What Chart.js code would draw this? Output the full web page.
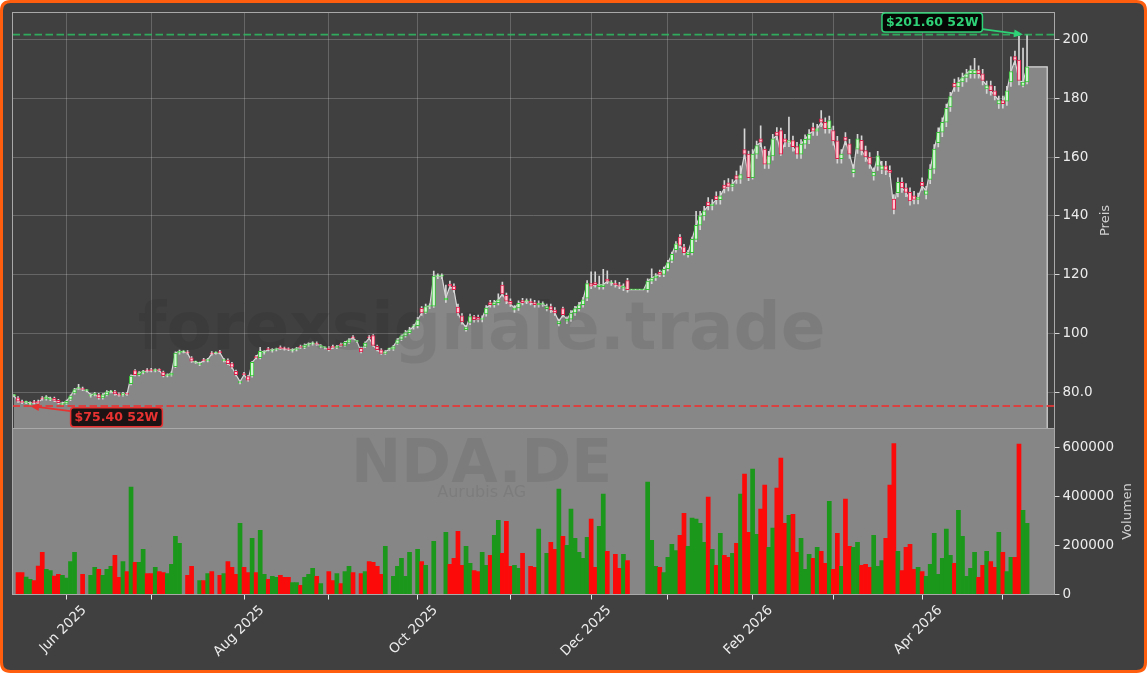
<!DOCTYPE html>
<html><head><meta charset="utf-8">
<script src="https://cdn.jsdelivr.net/npm/chart.js@4.4.1/dist/chart.umd.min.js"></script>
<style>html,body{margin:0;padding:0;background:#fff;}#wrap{width:1147px;height:673px;}</style>
</head><body><div id="wrap"><canvas id="c" width="1147" height="673"></canvas></div>
<script>
// ---- data (trading-day index on x) ----
const monthTickIdx = [13,34,57,78,100,123,143,162,183,203,225,245];
const monthTickLabels = ['Jun 2025','','Aug 2025','','Oct 2025','','Dec 2025','','Feb 2026','','Apr 2026',''];
const priceTicks = [80,100,120,140,160,180,200];
const priceTickLabels = ['80.0','100','120','140','160','180','200'];
const volTicks = [0,200000,400000,600000];
const volTickLabels = ['0','200000','400000','600000'];

const closes = [
78.9,77.0,76.6,76.7,76.4,76.5,76.6,77.8,78.5,78.0,
77.3,76.5,76.3,77.0,78.8,81.0,81.4,81.0,80.6,79.2,
79.6,78.1,79.2,80.2,80.3,79.5,79.1,79.6,79.4,85.6,
86.0,86.7,87.1,87.3,87.4,87.6,87.5,85.7,85.9,86.6,
93.4,94.0,93.8,93.4,90.6,90.3,89.9,90.8,91.2,93.1,
93.4,93.5,91.2,89.8,88.6,86.0,83.7,86.0,84.2,90.2,
91.8,94.0,93.8,94.5,94.5,94.7,95.0,94.8,94.6,94.5,
94.9,95.3,96.1,96.5,96.8,96.4,95.9,95.2,94.5,95.3,
95.6,96.0,97.0,97.9,98.5,97.3,93.8,96.8,98.5,96.0,
94.5,93.3,93.8,94.7,95.6,97.9,99.2,100.3,101.3,102.3,
104.7,107.0,109.2,109.3,119.5,119.5,119.5,112.1,116.1,114.9,
107.0,104.0,102.0,105.8,104.7,104.8,105.2,108.7,109.8,110.5,
111.5,113.5,111.0,110.0,108.7,110.3,110.5,111.0,110.5,109.8,
110.3,110.0,109.2,108.0,107.0,104.1,106.4,104.9,107.0,108.5,
109.8,111.5,117.0,116.1,116.6,116.6,116.6,117.8,117.2,116.6,
116.1,116.1,114.9,114.9,114.9,114.9,114.9,117.8,118.9,119.6,
120.1,121.8,124.1,126.9,130.5,130.0,127.5,127.5,132.0,136.8,
140.0,141.7,143.5,144.0,145.5,146.8,149.3,150.0,150.8,152.5,
154.0,161.0,153.0,161.0,163.9,165.0,157.6,160.4,166.2,167.3,
161.0,165.0,165.6,163.5,161.0,164.4,166.0,167.8,168.8,169.6,
171.8,169.6,172.4,165.5,159.4,161.0,165.6,161.0,155.9,166.2,
162.2,160.0,157.6,154.8,160.4,157.0,155.5,154.8,142.2,151.4,
149.5,148.0,145.1,145.6,146.2,150.2,148.5,155.9,162.7,168.4,
171.8,176.5,180.5,183.8,185.5,187.0,188.3,189.5,189.5,188.3,
186.0,184.3,182.5,180.9,179.2,178.1,182.5,189.0,192.9,186.0,
185.5,190.6];
const opens = [
78.9,78.2,77.0,76.6,76.0,76.9,77.0,78.2,77.8,77.6,
78.0,77.3,75.9,76.3,77.6,79.8,81.4,81.4,80.6,78.8,
79.2,79.3,78.1,79.2,80.2,80.3,79.5,79.1,79.6,83.0,
87.4,86.0,86.7,87.7,87.8,87.4,87.6,86.9,85.7,85.9,
88.8,93.4,93.8,93.8,91.8,90.3,89.5,91.2,90.8,93.5,
93.4,93.9,90.8,91.0,89.8,87.2,83.3,86.4,85.4,85.6,
92.2,91.8,93.4,94.9,94.1,94.5,95.4,95.0,94.8,94.1,
94.5,95.7,95.3,96.1,96.5,96.8,95.5,95.2,95.2,95.7,
95.3,96.4,96.0,97.0,98.9,97.3,95.0,95.6,98.9,99.3,
95.7,94.5,93.3,94.7,94.7,96.7,98.0,99.2,100.3,102.3,
102.7,108.6,107.2,109.3,109.3,119.5,119.5,111.4,116.8,116.1,
109.0,106.0,101.3,103.8,105.8,105.5,104.8,106.7,110.5,109.8,
110.5,116.5,113.0,111.0,108.0,108.7,111.2,111.0,111.0,110.5,
109.8,110.0,108.5,109.2,108.0,103.4,108.5,104.2,104.9,107.0,
108.5,109.8,112.0,117.0,117.3,115.9,115.9,118.5,117.2,117.2,
116.6,115.4,118.0,114.9,114.9,114.9,114.9,114.9,117.8,118.9,
120.8,120.1,122.1,124.9,128.5,132.8,129.5,126.8,127.5,132.0,
136.8,140.0,144.7,143.5,146.7,145.5,150.5,151.2,150.0,153.7,
152.5,162.5,161.0,153.0,161.0,166.2,162.7,157.6,160.4,168.5,
169.0,166.2,165.0,165.6,163.5,161.0,164.4,166.0,170.0,168.8,
173.0,171.8,169.6,169.0,165.5,159.4,166.8,164.5,154.7,162.7,
165.7,162.2,160.0,153.6,156.9,155.8,157.0,155.5,145.7,147.9,
151.4,149.5,148.0,146.8,145.6,151.4,147.3,152.4,155.9,164.9,
168.4,171.8,177.0,185.0,183.8,185.5,187.0,188.3,188.3,189.5,
188.3,183.1,184.3,182.5,178.0,179.2,179.0,185.5,194.1,192.9,
184.3,185.5];
const highs = [
79.3,78.6,77.4,77.1,76.8,77.3,77.4,78.6,78.9,78.4,
78.4,77.7,76.7,77.4,79.2,81.4,82.8,81.8,81.0,79.6,
80.0,79.7,79.6,80.6,80.7,80.7,79.9,80.0,80.0,86.0,
87.8,87.1,87.5,88.1,88.2,88.0,88.0,87.3,86.3,87.0,
93.8,94.4,94.2,94.2,92.2,90.7,90.3,91.6,91.6,93.9,
93.8,94.3,91.6,91.4,90.2,87.6,84.1,86.8,85.8,90.6,
92.6,95.3,94.2,95.3,94.9,95.1,95.8,95.4,95.2,94.9,
95.3,96.1,96.5,96.9,97.2,97.2,96.3,95.6,95.6,96.1,
96.0,96.8,97.4,98.3,99.3,97.7,95.4,97.2,99.3,99.7,
96.1,94.9,94.2,95.1,96.0,98.3,99.6,101.1,102.1,103.1,
105.5,109.2,110.0,110.1,121.2,120.3,120.3,116.5,117.8,116.9,
110.0,106.8,102.8,106.6,106.2,106.3,106.0,109.5,111.3,111.3,
113.5,117.5,113.8,111.8,109.5,111.1,112.0,111.8,111.8,111.3,
111.1,110.8,110.0,110.0,108.8,104.9,109.0,105.7,107.8,109.3,
110.6,112.3,118.0,121.0,121.0,119.5,121.8,121.3,118.0,118.0,
117.4,116.9,118.8,114.9,114.9,114.9,114.9,118.6,122.0,120.4,
121.6,122.6,124.9,127.7,131.3,133.6,130.3,128.3,132.8,141.5,
141.5,143.2,146.2,145.5,148.2,148.3,152.0,152.7,152.3,155.2,
157.0,169.6,162.0,162.5,165.4,170.6,163.5,161.9,167.7,170.0,
169.8,167.7,173.6,167.1,165.0,165.9,167.5,169.3,171.5,171.1,
175.8,173.3,173.9,170.5,167.0,162.5,168.3,166.0,157.4,167.7,
167.2,163.7,161.5,156.3,161.9,158.5,158.5,157.0,147.2,152.9,
152.9,151.0,149.5,148.3,147.7,152.9,150.0,157.4,164.2,169.9,
173.3,178.0,182.0,186.5,187.0,188.5,189.8,191.0,193.5,191.0,
189.8,185.8,185.8,184.0,180.7,180.7,184.0,194.0,196.0,201.0,
197.0,201.6];
const lows = [
78.5,76.6,76.2,76.2,75.4,76.1,76.2,77.4,77.4,77.2,
76.9,76.1,75.5,75.9,77.2,79.4,81.0,80.6,80.2,78.4,
78.8,77.7,77.7,78.8,79.8,79.1,78.7,78.7,79.0,82.6,
85.6,85.6,86.3,86.9,87.0,87.0,87.1,85.3,85.3,85.5,
88.4,93.0,93.4,93.0,90.2,89.9,89.1,90.4,90.4,92.7,
93.0,93.1,90.4,89.4,88.2,85.6,82.9,85.6,83.8,85.2,
91.4,91.4,93.0,94.1,93.7,94.1,94.6,94.4,94.2,93.7,
94.1,94.9,94.9,95.7,96.1,96.0,95.1,94.8,94.1,94.9,
94.9,95.6,95.6,96.6,98.1,96.9,93.4,95.2,98.1,95.6,
94.1,92.9,92.9,94.3,94.3,96.3,97.6,98.8,99.9,101.5,
101.9,106.2,106.8,108.5,108.9,118.7,118.7,110.6,115.3,114.1,
106.2,103.2,100.8,103.0,103.9,104.0,104.0,105.9,109.0,109.0,
109.7,112.7,110.2,109.2,107.2,107.9,109.7,110.2,109.7,109.0,
109.0,109.2,107.7,107.2,106.2,102.6,105.6,103.4,104.1,106.2,
107.7,109.0,111.2,115.3,115.8,115.1,115.1,117.0,116.4,115.8,
115.3,114.6,114.1,114.9,114.9,114.9,114.9,114.1,117.0,118.1,
119.3,119.3,121.3,124.1,127.7,129.2,126.7,126.0,126.7,131.2,
135.3,138.5,142.0,142.0,144.0,144.0,147.8,148.5,148.5,151.0,
151.0,159.5,152.0,152.5,159.5,163.5,156.1,156.1,158.9,165.8,
160.5,163.5,163.5,162.0,159.5,159.5,162.9,164.5,167.3,167.3,
170.3,168.1,168.1,164.0,157.9,157.9,164.1,159.5,153.2,161.2,
160.7,158.5,156.1,152.1,155.4,154.3,154.0,153.3,140.7,146.4,
148.0,146.5,143.6,144.1,144.1,148.7,145.8,150.9,154.4,163.4,
166.9,170.3,175.5,182.3,182.3,184.0,185.5,186.8,186.8,186.8,
184.5,181.6,181.0,179.4,176.5,176.6,177.5,184.0,191.4,184.5,
183.8,184.8];
const volumes = [
0,90000,90000,71000,61500,57000,116000,172000,102500,98000,
75000,82000,78000,67000,135000,172000,0,82000,0,78000,
111000,102500,78000,102500,115000,160000,70000,135000,94000,439000,
131000,131000,185000,86000,86000,111000,94000,90000,86000,123000,
238000,209000,0,78000,115000,0,57000,57000,86000,94000,
0,78000,86000,135000,111000,82000,291000,111000,90000,230000,
90000,262000,82000,61500,74000,70000,78000,70000,70000,49000,
49000,37000,70000,82000,107000,74000,45000,0,94000,57000,
86000,45000,94000,115000,90000,0,86000,94000,135000,131000,
115000,82000,197000,0,74000,115000,148000,74000,172000,0,
185000,135000,119000,0,217000,0,0,254000,123000,148000,
258000,119000,197000,127000,98000,94000,172000,119000,160000,242000,
303000,168000,299000,115000,119000,107000,168000,0,115000,111000,
267000,0,168000,213000,185000,431000,238000,201000,349000,230000,
172000,148000,234000,308000,111000,279000,410000,176000,0,164000,
107000,164000,139000,0,0,0,0,459000,221000,115000,
111000,90000,152000,205000,180000,242000,332000,197000,312000,308000,
291000,213000,398000,185000,119000,250000,160000,152000,168000,209000,
410000,492000,254000,513000,246000,349000,447000,193000,271000,435000,
558000,291000,324000,328000,172000,230000,102500,164000,148000,193000,
176000,127000,381000,102500,250000,115000,390000,197000,193000,213000,
119000,123000,111000,242000,115000,139000,230000,447000,617000,176000,
98000,193000,205000,102500,111000,94000,74000,123000,250000,82000,
148000,267000,160000,127000,344000,238000,74000,107000,172000,70000,
119000,176000,135000,111000,254000,172000,94000,152000,152000,615000,
344000,291000];
const tailCloses = [190.6,190.6,190.6,190.6,190.6];
const high52 = 201.6, high52Idx = 250;
const low52 = 75.4, low52Idx = 4;
const siteName = 'forexsignale.trade', ticker = 'NDA.DE', company = 'Aurubis AG';

// ---- scale ranges ----
const X_MIN = -0.37, X_MAX = 257.8;
const P_MIN = 67.75, P_MAX = 209.1;
const V_MAX = 678500;

const FONT = "'DejaVu Sans', sans-serif";
Chart.defaults.font.family = FONT;

const N = closes.length;
const up = i => closes[i] >= opens[i];
const closeLine = closes.map((c, i) => ({x: i, y: c}))
  .concat(tailCloses.map((c, k) => ({x: N + k, y: c})));
closeLine.push({x: N + tailCloses.length - 1, y: P_MIN});

function rr(c, x, y, w, h, r) {
  c.beginPath();
  c.moveTo(x + r, y); c.lineTo(x + w - r, y); c.quadraticCurveTo(x + w, y, x + w, y + r);
  c.lineTo(x + w, y + h - r); c.quadraticCurveTo(x + w, y + h, x + w - r, y + h);
  c.lineTo(x + r, y + h); c.quadraticCurveTo(x, y + h, x, y + h - r);
  c.lineTo(x, y + r); c.quadraticCurveTo(x, y, x + r, y); c.closePath();
}

const bgPlugin = {
  id: 'bg',
  beforeDraw(ch) {
    const c = ch.ctx; c.save();
    c.fillStyle = '#ffffff'; c.fillRect(0, 0, ch.width, ch.height);
    rr(c, 1.5, 1.5, ch.width - 3, ch.height - 3, 9);
    c.fillStyle = '#404040'; c.fill();
    c.lineWidth = 3; c.strokeStyle = '#ff5e0e'; c.stroke();
    c.restore();
  },
  beforeDatasetsDraw(ch) {
    const c = ch.ctx, ca = ch.chartArea, yv = ch.scales.yv;
    c.save(); c.fillStyle = '#868686';
    c.fillRect(ca.left, yv.top, ca.right - ca.left, yv.bottom - yv.top);
    c.restore();
  }
};

function annot(c, text, cx, cy, tx, ty, col, bg) {
  c.font = 'bold 12.5px ' + FONT;
  const w = c.measureText(text).width + 8, h = 19;
  const bx = cx - w / 2, by = cy - h / 2;
  const dx = tx - cx, dy = ty - cy;
  const sx = dx !== 0 ? (w / 2) / Math.abs(dx) : Infinity;
  const sy = dy !== 0 ? (h / 2) / Math.abs(dy) : Infinity;
  const s = Math.min(sx, sy);
  const x0 = cx + dx * s, y0 = cy + dy * s;
  const len = Math.hypot(tx - x0, ty - y0), ux = (tx - x0) / len, uy = (ty - y0) / len;
  const hl = 9, hw = 4;
  c.strokeStyle = col; c.fillStyle = col; c.lineWidth = 1.8;
  c.beginPath(); c.moveTo(x0, y0); c.lineTo(tx - ux * hl, ty - uy * hl); c.stroke();
  c.beginPath(); c.moveTo(tx, ty);
  c.lineTo(tx - ux * hl - uy * hw, ty - uy * hl + ux * hw);
  c.lineTo(tx - ux * hl + uy * hw, ty - uy * hl - ux * hw);
  c.closePath(); c.fill();
  rr(c, bx, by, w, h, 3); c.fillStyle = bg; c.fill();
  c.lineWidth = 1.5; c.strokeStyle = col; c.stroke();
  c.fillStyle = col; c.textAlign = 'center'; c.textBaseline = 'middle';
  c.fillText(text, cx, cy + 0.5);
}

const overlayPlugin = {
  id: 'overlay',
  afterDatasetsDraw(ch) {
    const c = ch.ctx, ca = ch.chartArea, x = ch.scales.x, y = ch.scales.y, yv = ch.scales.yv;
    c.save();
    // watermarks
    c.fillStyle = 'rgba(0,0,0,0.075)'; c.textAlign = 'center'; c.textBaseline = 'alphabetic';
    c.font = 'bold 66px ' + FONT; c.fillText(siteName, 481.7, 349);
    c.font = 'bold 60px ' + FONT; c.fillText(ticker, 481.7, 482);
    c.font = '16px ' + FONT; c.fillText(company, 481.7, 497);
    // frames
    c.strokeStyle = '#a9a9a9'; c.lineWidth = 1;
    c.strokeRect(ca.left, y.top, ca.right - ca.left, y.bottom - y.top);
    c.strokeRect(ca.left, yv.top, ca.right - ca.left, yv.bottom - yv.top);
    // 52W annotations
    annot(c, '$' + high52.toFixed(2) + ' 52W', x.getPixelForValue(227.5), y.getPixelForValue(205.7),
      x.getPixelForValue(high52Idx), y.getPixelForValue(high52), '#2fd176', '#050805');
    annot(c, '$' + low52.toFixed(2) + ' 52W', x.getPixelForValue(25.4), y.getPixelForValue(71.6),
      x.getPixelForValue(low52Idx), y.getPixelForValue(low52), '#e83232', '#1c1414');
    // axis titles
    c.fillStyle = '#d0d0d0'; c.font = '13px ' + FONT; c.textAlign = 'center'; c.textBaseline = 'middle';
    c.save(); c.translate(ca.right + 51.5, (y.top + y.bottom) / 2); c.rotate(-Math.PI / 2); c.fillText('Preis', 0, 0); c.restore();
    c.save(); c.translate(ca.right + 73, (yv.top + yv.bottom) / 2); c.rotate(-Math.PI / 2); c.fillText('Volumen', 0, 0); c.restore();
    c.restore();
  }
};

new Chart(document.getElementById('c'), {
  data: {
    datasets: [
      { type: 'bar', data: volumes.map((v, i) => ({x: i, y: v})), xAxisID: 'x', yAxisID: 'yv',
        backgroundColor: volumes.map((v, i) => up(i) ? '#1b981b' : '#fc0a0a'),
        barPercentage: 1, categoryPercentage: 1, grouped: false, order: 10 },
      { type: 'line', data: closeLine, xAxisID: 'x', yAxisID: 'y', borderColor: '#dadada', borderWidth: 1.2,
        backgroundColor: '#878787', fill: 'start', pointRadius: 0, tension: 0, order: 9 },
      { type: 'bar', data: closes.map((c, i) => ({x: i, y: [lows[i], highs[i]]})), xAxisID: 'x', yAxisID: 'y',
        backgroundColor: '#d6d6d6', barThickness: 1, grouped: false, order: 6 },
      { type: 'bar', data: closes.map((c, i) => ({x: i, y: [opens[i], c]})), xAxisID: 'x', yAxisID: 'y',
        backgroundColor: closes.map((c, i) => up(i) ? '#d4f5d4' : '#ffc8d3'),
        borderColor: closes.map((c, i) => up(i) ? '#36c236' : '#dc1e4a'),
        borderWidth: 1, borderSkipped: false, barThickness: 3.6, minBarLength: 1, grouped: false, order: 5 },
      { type: 'line', data: [{x: X_MIN, y: high52}, {x: X_MAX, y: high52}], xAxisID: 'x', yAxisID: 'y',
        borderColor: 'rgba(46,190,100,0.85)', borderWidth: 1.8, borderDash: [7.5, 3.5], pointRadius: 0, fill: false, order: 2 },
      { type: 'line', data: [{x: X_MIN, y: low52}, {x: X_MAX, y: low52}], xAxisID: 'x', yAxisID: 'y',
        borderColor: 'rgba(232,52,52,0.85)', borderWidth: 1.8, borderDash: [7.5, 3.5], pointRadius: 0, fill: false, order: 2 }
    ]
  },
  options: {
    responsive: false, animation: false, devicePixelRatio: 1,
    layout: { padding: { left: 12.5, top: 12.5, right: 0, bottom: 0 } },
    plugins: { legend: { display: false }, tooltip: { enabled: false } },
    scales: {
      x: { type: 'linear', position: 'bottom', min: X_MIN, max: X_MAX, offset: false,
        afterBuildTicks: s => { s.ticks = monthTickIdx.map(v => ({value: v})); },
        afterFit: s => { s.height = 78.5; },
        ticks: { autoSkip: false, maxRotation: 45, minRotation: 45, color: '#ececec', font: {size: 13.5},
          padding: 3, labelOffset: 18, callback: (v, i) => monthTickLabels[i] },
        grid: { offset: false, color: 'rgba(255,255,255,0.2)', lineWidth: 1, tickColor: '#e6e6e6', tickLength: 5 },
        border: { display: false } },
      y: { type: 'linear', position: 'right', stack: 'panels', stackWeight: 416, min: P_MIN, max: P_MAX,
        afterBuildTicks: s => { s.ticks = priceTicks.map(v => ({value: v})); },
        afterFit: s => { s.width = 92.5; },
        ticks: { color: '#ececec', font: {size: 13.5}, padding: 3, callback: (v, i) => priceTickLabels[i] },
        grid: { color: 'rgba(255,255,255,0.2)', tickColor: '#d6d6d6', tickLength: 5 },
        border: { display: false } },
      yv: { type: 'linear', position: 'right', stack: 'panels', stackWeight: 166, min: 0, max: V_MAX,
        afterBuildTicks: s => { s.ticks = volTicks.map(v => ({value: v})); },
        afterFit: s => { s.width = 92.5; },
        ticks: { color: '#ececec', font: {size: 13.5}, padding: 3, callback: (v, i) => volTickLabels[i] },
        grid: { drawOnChartArea: false, tickColor: '#d6d6d6', tickLength: 5 },
        border: { display: false } }
    }
  },
  plugins: [bgPlugin, overlayPlugin]
});
</script></body></html>
